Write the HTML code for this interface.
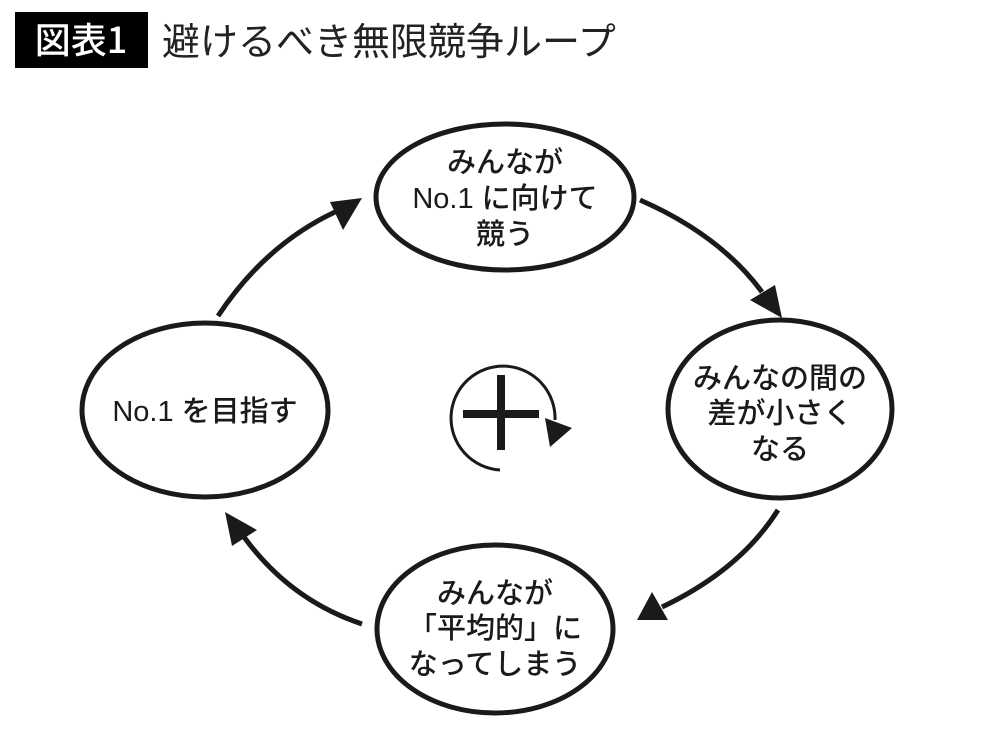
<!DOCTYPE html>
<html><head><meta charset="utf-8"><style>
body{margin:0;background:#fff;width:1000px;height:740px;overflow:hidden;font-family:"Liberation Sans","Noto Sans CJK JP",sans-serif}
</style></head><body>
<svg width="1000" height="740" viewBox="0 0 1000 740" xmlns="http://www.w3.org/2000/svg" style="position:absolute;left:0;top:0">
<rect x="15" y="12" width="133" height="56" fill="#000"/>
<text x="81" y="53" font-size="36" fill="#fff" text-anchor="middle" font-family="Noto Sans CJK JP, sans-serif" font-weight="500">図表1</text>
<text x="162" y="55" font-size="38" fill="#222" font-family="Noto Sans CJK JP, sans-serif">避けるべき無限競争ループ</text>
<g fill="#fff" stroke="#1a1a1a" stroke-width="5">
<ellipse cx="505" cy="197" rx="129" ry="73"/>
<ellipse cx="780" cy="409" rx="112" ry="89"/>
<ellipse cx="495" cy="629" rx="118" ry="84"/>
<ellipse cx="205" cy="410" rx="123" ry="87"/>
</g>
<g fill="none" stroke="#1a1a1a" stroke-width="5">
<path d="M218,316 Q265,245 335,212"/>
<path d="M640,200 Q720,235 762,292"/>
<path d="M778,510 Q740,570 662,607"/>
<path d="M362,624 Q290,600 244,537"/>
</g>
<g fill="#1a1a1a">
<path d="M362,198 L330,202 L343,230z"/>
<path d="M782,318 L750,300 L775,285z"/>
<path d="M637,620 L652,592 L668,620z"/>
<path d="M225,512 L257,530 L232,546z"/>
</g>
<rect x="497" y="375" width="8" height="75" fill="#1a1a1a"/>
<rect x="463" y="410" width="76" height="8" fill="#1a1a1a"/>
<path d="M500,470 A52,52 0 1 1 555,420" fill="none" stroke="#1a1a1a" stroke-width="3"/>
<path d="M545,418 L572,428 L550,447z" fill="#1a1a1a"/>
<g font-size="29" fill="#1a1a1a" text-anchor="middle" font-family="Liberation Sans, Noto Sans CJK JP, sans-serif" font-weight="500">
<text x="505" y="172">みんなが</text>
<text x="505" y="208">No.1 に向けて</text>
<text x="505" y="244">競う</text>
<text x="780" y="388">みんなの間の</text>
<text x="780" y="423">差が小さく</text>
<text x="780" y="459">なる</text>
<text x="495" y="603">みんなが</text>
<text x="495" y="638">「平均的」に</text>
<text x="495" y="674">なってしまう</text>
<text x="205" y="421">No.1 を目指す</text>
</g>
</svg>
</body></html>
